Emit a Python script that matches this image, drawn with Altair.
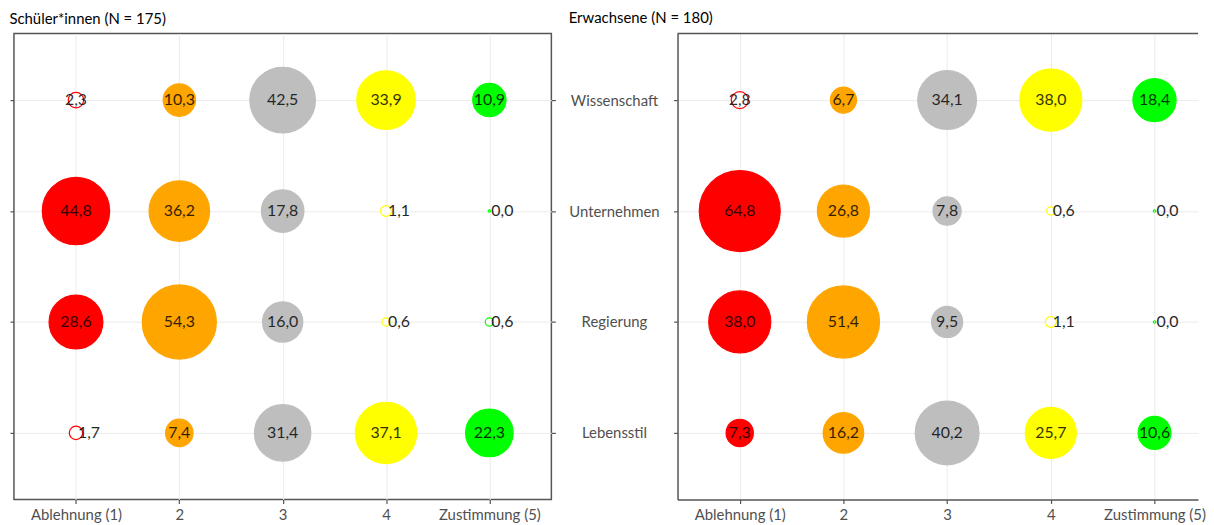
import json
import altair as alt
import pandas as pd

# ---- data -------------------------------------------------------------
rows = ["Wissenschaft", "Unternehmen", "Regierung", "Lebensstil"]
levels = ["Ablehnung (1)", "2", "3", "4", "Zustimmung (5)"]
colors = ["#FF0000", "#FFA500", "#BEBEBE", "#FFFF00", "#00FF00"]

title_schueler = "Schüler*innen (N = 175)"
schueler_wissenschaft = [2.3, 10.3, 42.5, 33.9, 10.9]
schueler_unternehmen = [44.8, 36.2, 17.8, 1.1, 0.0]
schueler_regierung = [28.6, 54.3, 16.0, 0.6, 0.6]
schueler_lebensstil = [1.7, 7.4, 31.4, 37.1, 22.3]

title_erwachsene = "Erwachsene (N = 180)"
erwachsene_wissenschaft = [2.8, 6.7, 34.1, 38.0, 18.4]
erwachsene_unternehmen = [64.8, 26.8, 7.8, 0.6, 0.0]
erwachsene_regierung = [38.0, 51.4, 9.5, 1.1, 0.0]
erwachsene_lebensstil = [7.3, 16.2, 40.2, 25.7, 10.6]


def make_df(series):
    recs = []
    for i, (r, vals) in enumerate(zip(rows, series)):
        for j, v in enumerate(vals):
            recs.append({"row": i + 1, "rowname": r, "level": j + 1,
                         "levelname": levels[j], "value": v})
    return pd.DataFrame(recs)


df_s = make_df([schueler_wissenschaft, schueler_unternehmen,
                schueler_regierung, schueler_lebensstil])
df_e = make_df([erwachsene_wissenschaft, erwachsene_unternehmen,
                erwachsene_regierung, erwachsene_lebensstil])

FONT = "Lato"
BORDER = "#555555"
GRID = "#EBEBEB"
LABEL = "#505050"
HEIGHT = 469

x_label_expr = json.dumps(levels) + "[datum.value - 1]"
y_label_expr = json.dumps(rows) + "[datum.value - 1]"


def panel(df, title, width, xmax, left):
    vmax = float(df["value"].max())
    x = alt.X("level:Q",
              scale=alt.Scale(domain=[0.4, xmax], nice=False, zero=False),
              axis=alt.Axis(values=[1, 2, 3, 4, 5], labelExpr=x_label_expr,
                            title=None, grid=True, gridColor=GRID, gridWidth=1,
                            domain=not left, domainColor=BORDER, domainWidth=1.5,
                            tickSize=4, tickColor=BORDER, tickWidth=1.2,
                            labelFont=FONT, labelFontSize=15, labelColor=LABEL,
                            labelPadding=4))
    yscale = alt.Scale(domain=[0.4, 4.6], nice=False, zero=False, reverse=True)
    if left:
        y_main = alt.Y("row:Q", scale=yscale,
                       axis=alt.Axis(values=[1, 2, 3, 4], labels=False, title=None,
                                     grid=True, gridColor=GRID, domain=False,
                                     tickSize=4, tickColor=BORDER, tickWidth=1.2,
                                     orient="left"))
        y_right = alt.Y("row:Q", scale=yscale,
                        axis=alt.Axis(values=[1, 2, 3, 4], labels=False, title=None,
                                      grid=False, domain=False,
                                      tickSize=4, tickColor=BORDER, tickWidth=1.2,
                                      orient="right"))
        y_none = alt.Y("row:Q", scale=yscale, axis=None)
    else:
        y_main = alt.Y("row:Q", scale=yscale,
                       axis=alt.Axis(values=[1, 2, 3, 4], labelExpr=y_label_expr,
                                     title=None, grid=True, gridColor=GRID,
                                     domain=True, domainColor=BORDER, domainWidth=1.5,
                                     tickSize=4, tickColor=BORDER, tickWidth=1.2,
                                     labelFont=FONT, labelFontSize=15,
                                     labelColor=LABEL, labelAlign="center",
                                     labelBaseline="middle", labelPadding=60,
                                     orient="left"))
        y_right = y_main
        y_none = y_main

    col_scale = alt.Scale(domain=[1, 2, 3, 4, 5], range=colors)
    base = alt.Chart(df)
    circles = base.mark_circle(opacity=1, fillOpacity=1, strokeWidth=1.2).encode(
        x=x, y=y_main,
        size=alt.Size("value:Q", scale=alt.Scale(domain=[0, vmax], range=[6, 6650]),
                      legend=None),
        fill=alt.condition("datum.value < 5", alt.value("white"),
                           alt.Fill("level:N", scale=col_scale, legend=None)),
        stroke=alt.Stroke("level:N", scale=col_scale, legend=None),
    )
    lab = base.transform_calculate(
        label="replace(format(datum.value, '.1f'), '.', ',')")
    text_c = lab.transform_filter("datum.value >= 2").mark_text(
        font=FONT, fontSize=16, color="black", opacity=0.8,
        align="center", baseline="middle").encode(x=x, y=y_right, text="label:N")
    text_l = lab.transform_filter("datum.value < 2").mark_text(
        font=FONT, fontSize=16, color="black", opacity=0.85,
        align="left", baseline="middle", dx=2).encode(x=x, y=y_none, text="label:N")

    layers = [circles, text_c, text_l]
    if not left:
        top = alt.Chart(pd.DataFrame({"k": [0]})).mark_rule(
            color=BORDER, strokeWidth=1.5).encode(
            x=alt.value(0), x2=alt.value(width), y=alt.value(0))
        layers.append(top)
    ch = alt.layer(*layers).properties(
        width=width, height=HEIGHT,
        title=alt.TitleParams(title, anchor="start", font=FONT, fontSize=15,
                              fontWeight="normal", color="#000000", offset=7),
    )
    if left:
        ch = ch.properties(view=alt.ViewBackground(stroke=BORDER, strokeWidth=1.5))
        ch = ch.resolve_axis(y="independent")
    else:
        ch = ch.properties(view=alt.ViewBackground(stroke="transparent"))
    return ch


left = panel(df_s, title_schueler, 541, 5.6, True)
right = panel(df_e, title_erwachsene, 524, 5.42, False)

chart = alt.hconcat(left, right, spacing=127, bounds="flush").properties(
    padding={"left": 0, "top": 0, "right": 0, "bottom": 0}
).configure(background="white")

chart.save("out.html", embed_options={"renderer": "svg", "actions": False})
